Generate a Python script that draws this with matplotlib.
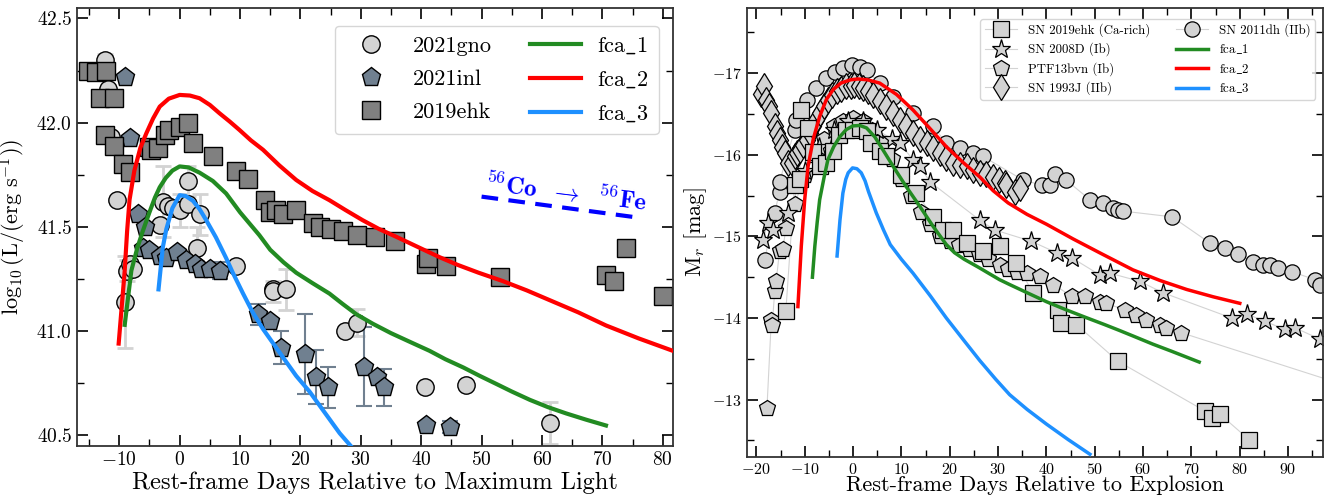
import matplotlib
matplotlib.use("Agg")
import matplotlib.pyplot as plt
import numpy as np
from matplotlib.ticker import MultipleLocator
from matplotlib.lines import Line2D

plt.rcParams.update({
    "font.family": "serif",
    "font.serif": ["cmr10"],
    "mathtext.fontset": "cm",
    "axes.formatter.use_mathtext": True,
})

# ---------------- left panel: bolometric light curves ----------------
gno_day = [-12.3, -11.9, -11.3, -10.4, -9.1, -8.8, -8.3, -7.8, -3.3, -2.8, -1.9,
           -1.1, 0.0, 1.4, 1.4, 3.3, 2.8, 9.4, 15.5, 15.5, 17.6, 27.3, 29.3,
           40.6, 47.5, 61.3]
gno_lum = [42.30, 42.16, 41.93, 41.63, 41.14, 41.29, 41.32, 41.30, 41.51, 41.62,
           41.60, 41.59, 41.58, 41.61, 41.72, 41.56, 41.40, 41.31, 41.20, 41.19,
           41.20, 41.00, 41.04, 40.73, 40.74, 40.56]
gno_err = [0.03, np.nan, np.nan, np.nan, 0.22, 0.05, np.nan, np.nan, np.nan, 0.17,
           np.nan, np.nan, 0.08, np.nan, 0.07, 0.10, 0.10, np.nan, np.nan, 0.05,
           0.10, np.nan, 0.065, np.nan, np.nan, 0.10]

inl_day = [-9.1, -8.3, -6.9, -5.8, -6.1, -5.0, -3.3, -2.2, -0.5, 1.1, 2.5, 3.6,
           5.0, 6.6, 13.0, 14.9, 16.8, 20.7, 22.6, 24.6, 30.6, 32.6, 33.9,
           40.8, 44.8]
inl_lum = [42.22, 41.925, 41.56, 41.50, 41.40, 41.39, 41.36, 41.35, 41.38, 41.34,
           41.32, 41.30, 41.30, 41.29, 41.08, 41.05, 40.92, 40.89, 40.78, 40.73,
           40.83, 40.78, 40.73, 40.55, 40.54]
inl_err = [np.nan, np.nan, np.nan, np.nan, np.nan, np.nan, np.nan, np.nan, np.nan,
           np.nan, np.nan, np.nan, np.nan, 0.04, 0.05, np.nan, 0.08, 0.19, 0.13,
           0.10, 0.19, np.nan, 0.09, np.nan, 0.03]

ehk_day = [-15.2, -13.9, -12.2, -13.2, -10.8, -12.4, -10.8, -9.4, -8.3, -5.0,
           -4.7, -3.6, -2.5, -1.7, 0.0, 1.3, 2.2, 5.5, 9.4, 11.3, 14.2, 14.9,
           16.0, 17.1, 19.3, 22.1, 23.2, 25.1, 27.0, 29.3, 32.3, 35.6, 40.8,
           41.1, 44.1, 53.0, 70.6, 72.0, 74.0, 80.0]
ehk_lum = [42.25, 42.245, 42.25, 42.12, 42.12, 41.94, 41.89, 41.80, 41.765, 41.885,
           41.87, 41.88, 41.94, 41.965, 41.98, 42.00, 41.90, 41.84, 41.77, 41.73,
           41.63, 41.57, 41.58, 41.56, 41.58, 41.52, 41.50, 41.49, 41.48, 41.46,
           41.45, 41.43, 41.32, 41.35, 41.31, 41.26, 41.27, 41.24, 41.40, 41.17]

fca1_day = [-9.1, -8.0, -7.0, -6.1, -5.0, -4.1, -3.3, -2.3, -1.2, 0.0, 1.5, 3.3,
            5.5, 7.7, 10.0, 13.2, 15.0, 17.2, 19.3, 22.0, 24.8, 27.0, 29.3, 32.0,
            35.0, 38.0, 41.4, 44.0, 47.0, 49.7, 52.4, 55.0, 58.0, 61.0, 64.0,
            67.3, 70.6]
fca1_lum = [41.03, 41.29, 41.40, 41.48, 41.57, 41.64, 41.69, 41.735, 41.77, 41.79,
            41.785, 41.76, 41.72, 41.66, 41.57, 41.46, 41.39, 41.33, 41.28, 41.23,
            41.18, 41.13, 41.08, 41.035, 40.99, 40.95, 40.905, 40.865, 40.825,
            40.785, 40.747, 40.71, 40.67, 40.635, 40.605, 40.575, 40.547]
fca2_day = [-10.1, -9.5, -9.1, -8.7, -8.3, -7.5, -6.5, -5.5, -4.4, -3.3, -1.8,
            0.0, 1.7, 3.3, 5.0, 6.6, 8.3, 9.9, 11.8, 13.8, 16.5, 19.3, 22.0, 24.8,
            27.5, 30.3, 33.0, 35.9, 39.7, 43.0, 46.0, 49.5, 53.5, 57.5, 61.3, 66.0,
            70.6, 76.0, 81.7]
fca2_lum = [40.94, 41.15, 41.29, 41.48, 41.63, 41.77, 41.88, 41.95, 42.02, 42.077,
            42.115, 42.133, 42.13, 42.117, 42.085, 42.045, 42.005, 41.965, 41.915,
            41.87, 41.795, 41.725, 41.672, 41.628, 41.58, 41.532, 41.49, 41.452,
            41.40, 41.355, 41.318, 41.28, 41.24, 41.195, 41.148, 41.09, 41.027,
            40.965, 40.905]
fca3_day = [-3.5, -2.8, -2.2, -1.2, 0.0, 1.0, 2.2, 3.3, 4.4, 6.0, 7.7, 8.8, 10.5,
            12.1, 13.8, 16.0, 17.7, 19.3, 21.5, 24.0, 26.5, 28.3]
fca3_lum = [41.20, 41.40, 41.49, 41.59, 41.652, 41.648, 41.625, 41.585, 41.532,
            41.45, 41.35, 41.28, 41.18, 41.09, 41.01, 40.92, 40.85, 40.785, 40.71,
            40.61, 40.51, 40.45]

co_day = [50, 75]
co_lum = [41.645, 41.548]

# ---------------- right panel: r-band comparison ----------------
r_ehk_day = [-13.9, -12.1, -11.0, -10.7, -9.3, -8.3, -6.9, -5.5, -4.1, -2.8, -1.4,
             0.0, 1.4, 2.8, 3.8, 5.5, 6.9, 10.0, 13.1, 16.6, 18.6, 20.7, 23.5,
             26.9, 30.3, 33.8, 37.2, 42.4, 43.1, 46.2, 54.8, 72.8, 74.2, 75.9, 81.9]
r_ehk_mag = [-14.08, -15.63, -15.71, -16.55, -16.33, -16.04, -15.86, -15.90, -16.05,
             -16.24, -16.30, -16.31, -16.33, -16.29, -16.14, -16.05, -15.98, -15.75,
             -15.53, -15.24, -15.08, -15.08, -14.92, -14.82, -14.88, -14.67, -14.31,
             -14.10, -13.94, -13.92, -13.47, -12.86, -12.78, -12.82, -12.51]

r_08d_day = [-18.6, -17.6, -16.6, -13.4, -10.0, -7.0, -4.0, -1.0, 2.0, 5.0, 8.0,
             9.7, 12.4, 13.8, 15.9, 26.2, 29.3, 36.9, 42.1, 45.2, 51.0, 53.1, 59.3,
             64.1, 78.3, 81.4, 85.2, 89.3, 91.4, 96.6]
r_08d_mag = [-14.96, -15.16, -15.08, -15.29, -15.80, -16.10, -16.30, -16.42, -16.42,
             -16.30, -16.20, -16.14, -15.94, -15.86, -15.67, -15.20, -15.08, -14.94,
             -14.80, -14.74, -14.53, -14.55, -14.45, -14.31, -14.00, -14.05, -13.96,
             -13.86, -13.88, -13.74]

r_bvn_day = [-17.8, -16.9, -16.7, -16.2, -15.9, -15.2, -14.5, -13.9, -12.0, -10.0,
             -8.0, -6.0, -4.0, -2.0, 0.0, 2.0, 4.0, 6.0, 8.0, 10.0, 12.0, 14.0,
             16.0, 18.0, 20.0, 22.0, 24.0, 26.0, 28.0, 30.3, 32.0, 34.0, 36.0,
             38.6, 41.4, 45.2, 47.9, 51.0, 52.4, 56.2, 58.6, 60.7, 63.5, 64.8,
             67.9, 110.0]
r_bvn_mag = [-12.90, -13.98, -13.92, -14.33, -14.45, -14.82, -14.84, -15.10, -15.40,
             -15.75, -16.00, -16.20, -16.35, -16.42, -16.45, -16.42, -16.30, -16.15,
             -15.95, -15.70, -15.50, -15.30, -15.15, -15.00, -14.95, -14.90, -14.85,
             -14.78, -14.72, -14.65, -14.60, -14.57, -14.55, -14.51, -14.41, -14.27,
             -14.27, -14.20, -14.18, -14.10, -14.04, -13.98, -13.92, -13.88, -13.82,
             -13.02]

r_93j_day = [-19.0, -18.5, -17.9, -17.4, -16.9, -16.2, -15.7, -15.2, -14.6, -14.1,
             -13.4, -12.7, -12.1, -11.5, -11.0, -10.3, -9.6, -9.0, -8.3, -7.6, -6.9,
             -6.0, -5.2, -4.3, -3.4, -2.4, -1.4, -0.5, 0.3, 1.2, 2.1, 3.1, 4.1, 5.5,
             6.9, 8.3, 9.7, 11.0, 12.4, 13.8, 15.2, 16.5, 17.9, 19.3, 20.7, 22.1,
             23.5, 24.9, 26.2, 27.6, 29.0, 30.2, 31.4, 31.7, 33.5, 34.5]
r_93j_mag = [-16.75, -16.85, -16.67, -16.60, -16.51, -16.35, -16.27, -16.18, -16.10,
             -16.02, -15.90, -15.90, -15.98, -16.02, -16.06, -16.12, -16.18, -16.27,
             -16.35, -16.43, -16.51, -16.60, -16.67, -16.73, -16.78, -16.81, -16.84,
             -16.85, -16.86, -16.85, -16.82, -16.78, -16.73, -16.66, -16.59, -16.51,
             -16.43, -16.35, -16.27, -16.20, -16.14, -16.08, -16.02, -15.96, -15.90,
             -15.88, -15.86, -15.82, -15.78, -15.76, -15.73, -15.69, -15.65, -15.63,
             -15.55, -15.59]

r_11dh_day = [-18.3, -16.2, -15.2, -15.2, -12.1, -11.7, -9.6, -7.6, -5.5, -3.8,
              -2.1, -0.3, 1.4, 2.8, 5.5, 8.3, 12.4, 16.6, 19.3, 22.1, 24.8, 26.9,
              35.2, 39.0, 40.7, 41.7, 44.1, 49.0, 51.7, 53.8, 54.8, 55.9, 66.0,
              73.8, 76.9, 79.7, 82.8, 84.8, 86.2, 87.9, 90.7, 95.5, 96.6, 110.0]
r_11dh_mag = [-14.71, -15.29, -15.55, -15.67, -16.30, -16.43, -16.67, -16.82, -16.94,
              -17.02, -17.06, -17.10, -17.08, -17.04, -16.88, -16.71, -16.51, -16.35,
              -16.14, -16.08, -16.02, -15.98, -15.69, -15.63, -15.63, -15.76, -15.69,
              -15.45, -15.41, -15.35, -15.33, -15.31, -15.24, -14.92, -14.86, -14.78,
              -14.69, -14.65, -14.65, -14.61, -14.57, -14.47, -14.41, -14.15]

r_fca1_day = [-8.4, -7.9, -7.4, -6.9, -6.0, -5.2, -4.0, -2.75, -1.4, 0.0, 1.4, 2.8,
              4.5, 6.2, 8.5, 11.0, 13.8, 16.6, 19.3, 21.0, 23.0, 26.0, 28.0, 30.3,
              32.4, 36.0, 40.0, 44.1, 48.0, 52.0, 55.0, 57.9, 62.0, 66.0, 71.6]
r_fca1_mag = [-14.50, -14.88, -15.18, -15.45, -15.72, -15.94, -16.10, -16.22, -16.31,
              -16.355, -16.36, -16.33, -16.22, -16.06, -15.84, -15.61, -15.37, -15.12,
              -14.90, -14.80, -14.72, -14.62, -14.55, -14.47, -14.41, -14.31, -14.20,
              -14.10, -14.01, -13.92, -13.85, -13.78, -13.68, -13.59, -13.46]
r_fca2_day = [-11.4, -10.7, -10.0, -9.3, -8.2, -6.9, -5.5, -4.1, -2.5, -0.5, 1.0,
              3.0, 5.5, 9.0, 12.4, 15.8, 19.3, 22.7, 26.2, 29.0, 32.1, 36.0, 40.0,
              45.5, 51.0, 57.9, 63.5, 69.0, 74.5, 80.0]
r_fca2_mag = [-14.14, -14.88, -15.45, -15.86, -16.20, -16.47, -16.68, -16.80, -16.88,
              -16.92, -16.93, -16.92, -16.88, -16.74, -16.55, -16.33, -16.10, -15.91,
              -15.73, -15.56, -15.41, -15.27, -15.15, -14.97, -14.80, -14.59, -14.46,
              -14.35, -14.26, -14.18]
r_fca3_day = [-3.3, -2.7, -2.1, -1.5, -1.0, -0.1, 0.8, 1.7, 2.5, 3.2, 4.8, 6.3,
              7.7, 10.0, 12.4, 16.0, 19.3, 23.0, 26.2, 29.5, 32.4, 36.0, 40.0, 44.5,
              49.0]
r_fca3_mag = [-14.76, -15.20, -15.53, -15.70, -15.78, -15.84, -15.83, -15.78, -15.68,
              -15.55, -15.29, -15.08, -14.90, -14.72, -14.55, -14.27, -14.00, -13.72,
              -13.48, -13.25, -13.06, -12.88, -12.70, -12.51, -12.33]

fig = plt.figure(figsize=(13.3, 4.97), dpi=100)
ax_l = fig.add_axes([0.0579, 0.1032, 0.4481, 0.8807])
ax_r = fig.add_axes([0.5614, 0.0811, 0.4333, 0.9028])

# left
ax_l.errorbar(gno_day, gno_lum, yerr=gno_err, fmt="none", ecolor="lightgrey",
              elinewidth=2, capsize=6, capthick=2, zorder=1)
ax_l.errorbar(inl_day, inl_lum, yerr=inl_err, fmt="none", ecolor="slategrey",
              elinewidth=1.5, capsize=6, capthick=1.5, zorder=1)
h_gno, = ax_l.plot(gno_day, gno_lum, ls="none", marker="o", ms=12.5, mfc="lightgrey",
                   mec="black", mew=1, label="2021gno", zorder=2)
h_inl, = ax_l.plot(inl_day, inl_lum, ls="none", marker="p", ms=14, mfc="slategrey",
                   mec="black", mew=1, label="2021inl", zorder=2)
h_ehk, = ax_l.plot(ehk_day, ehk_lum, ls="none", marker="s", ms=13, mfc="grey",
                   mec="black", mew=1, label="2019ehk", zorder=2)
h1, = ax_l.plot(fca1_day, fca1_lum, color="forestgreen", lw=3, label=r"$\mathrm{fca\_1}$", zorder=3)
h2, = ax_l.plot(fca2_day, fca2_lum, color="red", lw=3, label=r"$\mathrm{fca\_2}$", zorder=3)
h3, = ax_l.plot(fca3_day, fca3_lum, color="dodgerblue", lw=3, label=r"$\mathrm{fca\_3}$", zorder=3)
ax_l.plot(co_day, co_lum, color="blue", ls="--", lw=3, dashes=(4, 2.5))
ax_l.text(50.5, 41.675, r"$^{56}\mathbf{Co}\ \ \rightarrow\ \ ^{56}\mathbf{Fe}$",
          color="blue", fontsize=18, rotation=-7, rotation_mode="anchor")

ax_l.set_xlim(-17, 81.7)
ax_l.set_ylim(40.45, 42.55)
ax_l.xaxis.set_major_locator(MultipleLocator(10))
ax_l.xaxis.set_minor_locator(MultipleLocator(5))
ax_l.yaxis.set_major_locator(MultipleLocator(0.5))
ax_l.yaxis.set_minor_locator(MultipleLocator(0.25))
ax_l.set_xlabel("Rest-frame Days Relative to Maximum Light", fontsize=17.6, labelpad=2)
ax_l.set_ylabel(r"$\log_{10}(\mathrm{L}/(\mathrm{erg\ s^{-1}}))$", fontsize=16, labelpad=6)
ax_l.legend(handles=[h_gno, h_inl, h_ehk, h1, h2, h3], ncol=2, loc="upper right",
            fontsize=16, numpoints=1, handlelength=2.3, handletextpad=0.75,
            columnspacing=1.7, borderpad=0.45, labelspacing=0.6,
            bbox_to_anchor=(0.995, 0.985))

# right
thin = dict(color="lightgrey", lw=0.8, zorder=1)
ax_r.plot(r_ehk_day, r_ehk_mag, **thin)
ax_r.plot(r_08d_day, r_08d_mag, **thin)
ax_r.plot(r_bvn_day, r_bvn_mag, **thin)
ax_r.plot(r_93j_day, r_93j_mag, **thin)
ax_r.plot(r_11dh_day, r_11dh_mag, **thin)
mk = dict(ls="none", mfc="lightgrey", mec="black", mew=0.9, zorder=2)
ax_r.plot(r_11dh_day, r_11dh_mag, marker="o", ms=11, **mk)
ax_r.plot(r_93j_day, r_93j_mag, marker="d", ms=13, **mk)
ax_r.plot(r_bvn_day, r_bvn_mag, marker="p", ms=12, **mk)
ax_r.plot(r_08d_day, r_08d_mag, marker="*", ms=14, **mk)
ax_r.plot(r_ehk_day, r_ehk_mag, marker="s", ms=12, **mk)
ax_r.plot(r_fca1_day, r_fca1_mag, color="forestgreen", lw=2.5, zorder=3)
ax_r.plot(r_fca2_day, r_fca2_mag, color="red", lw=2.5, zorder=3)
ax_r.plot(r_fca3_day, r_fca3_mag, color="dodgerblue", lw=2.5, zorder=3)

ax_r.set_xlim(-22, 97.2)
ax_r.set_ylim(-12.3, -17.8)
ax_r.xaxis.set_major_locator(MultipleLocator(10))
ax_r.xaxis.set_minor_locator(MultipleLocator(5))
ax_r.yaxis.set_major_locator(MultipleLocator(1))
ax_r.yaxis.set_minor_locator(MultipleLocator(0.5))
ax_r.set_xlabel("Rest-frame Days Relative to Explosion", fontsize=16, labelpad=-1)
ax_r.set_ylabel(r"M$_r$ [mag]", fontsize=16, labelpad=2)

lk = dict(color="lightgrey", lw=0.8, mfc="lightgrey", mec="black", mew=0.9)
r_handles = [
    Line2D([], [], marker="s", ms=12, label="SN 2019ehk (Ca-rich)", **lk),
    Line2D([], [], marker="*", ms=14, label="SN 2008D (Ib)", **lk),
    Line2D([], [], marker="p", ms=12, label="PTF13bvn (Ib)", **lk),
    Line2D([], [], marker="d", ms=13, label="SN 1993J (IIb)", **lk),
    Line2D([], [], marker="o", ms=11, label="SN 2011dh (IIb)", **lk),
    Line2D([], [], color="forestgreen", lw=2.5, label=r"$\mathrm{fca\_1}$"),
    Line2D([], [], color="red", lw=2.5, label=r"$\mathrm{fca\_2}$"),
    Line2D([], [], color="dodgerblue", lw=2.5, label=r"$\mathrm{fca\_3}$"),
]
ax_r.legend(handles=r_handles, ncol=2, loc="upper right", fontsize=9.3,
            handlelength=2.5, handletextpad=0.85, columnspacing=2.0,
            borderpad=0.35, labelspacing=0.42,
            bbox_to_anchor=(0.998, 0.99))

for ax in (ax_l, ax_r):
    ax.tick_params(which="both", direction="in", top=True, right=True)
    ax.tick_params(which="major", length=8, width=1.2)
    ax.tick_params(which="minor", length=5, width=1.0)
    for s in ax.spines.values():
        s.set_linewidth(1.3)
        s.set_color("#333333")
ax_l.tick_params(which="major", labelsize=14)
ax_r.tick_params(which="major", labelsize=11.5)

fig.savefig("out.png", dpi=100)
